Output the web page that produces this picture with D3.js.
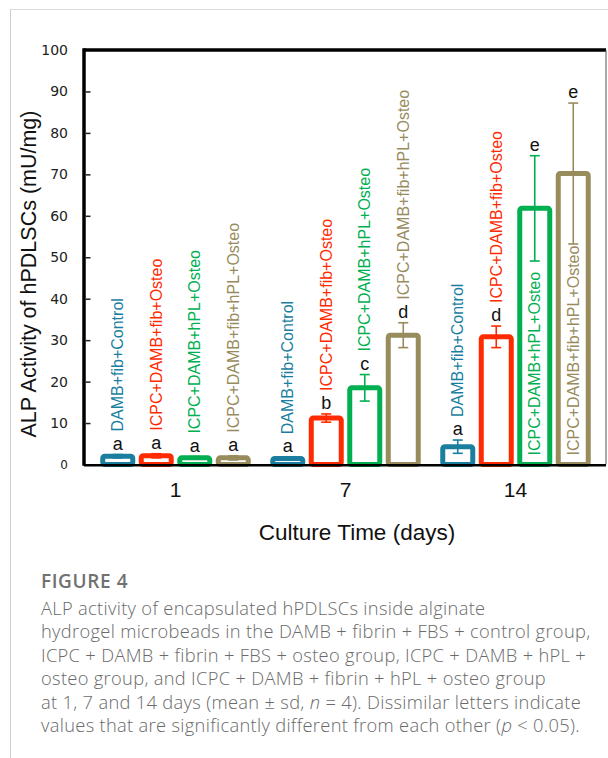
<!DOCTYPE html>
<html>
<head>
<meta charset="utf-8">
<script src="https://cdn.jsdelivr.net/npm/d3@7"></script>
<style>
html,body{margin:0;padding:0;background:#fff;}
svg{display:block;}
</style>
</head>
<body>
<div id="chart"></div>
<script>
// ---- data ----
const days = ["1", "7", "14"];
const groups = ["DAMB+fib+Control", "ICPC+DAMB+fib+Osteo", "ICPC+DAMB+hPL+Osteo", "ICPC+DAMB+fib+hPL+Osteo"];
const groupColors = ["#1a7f9f", "#ff2a00", "#00b050", "#988b5c"];
const meanControl = [2.0, 1.45, 4.3];
const meanFibOsteo = [2.1, 11.2, 30.8];
const meanHplOsteo = [1.6, 18.5, 61.8];
const meanFibHplOsteo = [1.6, 31.2, 70.2];
const sdControl = [0.4, 0.3, 1.6];
const sdFibOsteo = [0.5, 1.0, 2.6];
const sdHplOsteo = [0.3, 3.2, 12.7];
const sdFibHplOsteo = [0.5, 3.0, 17.0];
const lettersControl = ["a", "a", "a"];
const lettersFibOsteo = ["a", "b", "d"];
const lettersHplOsteo = ["a", "c", "e"];
const lettersFibHplOsteo = ["a", "d", "e"];
const yTicks = [0, 10, 20, 30, 40, 50, 60, 70, 80, 90, 100];
const yTitle = "ALP Activity of hPDLSCs (mU/mg)";
const xTitle = "Culture Time (days)";
const captionHead = "FIGURE 4";
const captionLines = [
  "ALP activity of encapsulated hPDLSCs inside alginate",
  "hydrogel microbeads in the DAMB + fibrin + FBS + control group,",
  "ICPC + DAMB + fibrin + FBS + osteo group, ICPC + DAMB + hPL +",
  "osteo group, and ICPC + DAMB + fibrin + hPL + osteo group",
  "at 1, 7 and 14 days (mean \u00B1 sd, n = 4). Dissimilar letters indicate",
  "values that are significantly different from each other (p < 0.05)."
];

const means = [meanControl, meanFibOsteo, meanHplOsteo, meanFibHplOsteo];
const sds = [sdControl, sdFibOsteo, sdHplOsteo, sdFibHplOsteo];
const letters = [lettersControl, lettersFibOsteo, lettersHplOsteo, lettersFibHplOsteo];

const records = [];
days.forEach((d, di) => groups.forEach((g, gi) => records.push({
  day: d, group: g, gi, mean: means[gi][di], sd: sds[gi][di], letter: letters[gi][di], color: groupColors[gi]
})));

// ---- layout ----
const W = 608, H = 758;
const plotL = 84, plotR = 606, plotT = 50, plotB = 464.5;
const svg = d3.select("#chart").append("svg").attr("width", W).attr("height", H)
  .style("font-family", "'Liberation Sans', Arial, sans-serif");

svg.append("rect").attr("width", W).attr("height", H).attr("fill", "#fff");
// page frame lines
svg.append("line").attr("x1", 10).attr("x2", W).attr("y1", 9.5).attr("y2", 9.5).attr("stroke", "#dcdcdc").attr("stroke-width", 1);
svg.append("line").attr("x1", 10.5).attr("x2", 10.5).attr("y1", 9.5).attr("y2", H).attr("stroke", "#cfcfcf").attr("stroke-width", 1);

const y = d3.scaleLinear().domain([0, 100]).range([plotB, plotT]);
const x0 = d3.scaleBand().domain(days).range([90.5, 600.5]).padding(0);
const x1 = d3.scaleBand().domain(groups).range([-75.25, 75.25]).paddingInner(0.091);
const sw = 5;

const g = svg.append("g");

// bars
const barG = g.selectAll("g.bar").data(records).join("g").attr("class", "bar");
barG.append("rect")
  .attr("x", d => x0(d.day) + x0.bandwidth() / 2 + x1(d.group) + sw / 2)
  .attr("width", x1.bandwidth() - sw)
  .attr("y", d => y(d.mean))
  .attr("height", d => y(0) - y(d.mean))
  .attr("rx", 2)
  .attr("fill", "#fff")
  .attr("stroke", d => d.color)
  .attr("stroke-width", sw);

const cx = d => x0(d.day) + x0.bandwidth() / 2 + x1(d.group) + x1.bandwidth() / 2;
// error bars
barG.append("line").attr("x1", cx).attr("x2", cx)
  .attr("y1", d => y(d.mean - d.sd)).attr("y2", d => y(d.mean + d.sd))
  .attr("stroke", d => d.color).attr("stroke-width", 1.6);
[1, -1].forEach(s => {
  barG.append("line").attr("x1", d => cx(d) - 5).attr("x2", d => cx(d) + 5)
    .attr("y1", d => y(d.mean + s * d.sd)).attr("y2", d => y(d.mean + s * d.sd))
    .attr("stroke", d => d.color).attr("stroke-width", 1.6);
});

// significance letters
barG.append("text")
  .attr("x", cx).attr("y", d => y(d.mean + d.sd) - 5)
  .attr("text-anchor", "middle").attr("font-size", 18).attr("fill", "#111")
  .text(d => d.letter);

// rotated group labels
barG.append("text")
  .attr("font-size", 16)
  .attr("fill", d => d.color)
  .attr("text-anchor", "start")
  .attr("dy", "0.35em")
  .text(d => d.group)
  .each(function (d) {
    const len = this.getComputedTextLength();
    let bottom = y(d.mean + d.sd) - 5 - 18;
    if (bottom - len < plotT + 2) bottom = y(0) - 9;
    d3.select(this).attr("transform", `translate(${cx(d)},${bottom}) rotate(-90)`);
  });

// frame / axes
g.append("line").attr("x1", plotL).attr("x2", plotR).attr("y1", plotT).attr("y2", plotT).attr("stroke", "#000").attr("stroke-width", 3.5);
g.append("line").attr("x1", plotR).attr("x2", plotR).attr("y1", plotT).attr("y2", plotB).attr("stroke", "#555").attr("stroke-width", 1);
g.append("line").attr("x1", plotL).attr("x2", plotL).attr("y1", plotT - 1.75).attr("y2", plotB + 1.25).attr("stroke", "#000").attr("stroke-width", 3.5);
g.append("line").attr("x1", plotL).attr("x2", plotR).attr("y1", plotB + 0.75).attr("y2", plotB + 0.75).attr("stroke", "#000").attr("stroke-width", 2.5);

// y ticks
const yAxis = d3.axisRight(y).tickValues(yTicks.slice(1, -1)).tickSize(5).tickFormat("");
const ya = g.append("g").attr("transform", `translate(${plotL + 1.5},0)`).call(yAxis);
ya.select(".domain").remove();
ya.selectAll(".tick line").attr("stroke", "#222").attr("stroke-width", 1.5);

g.selectAll("text.ytl").data(yTicks).join("text").attr("class", "ytl")
  .attr("x", 68).attr("y", d => y(d)).attr("dy", "0.35em")
  .attr("text-anchor", "end").attr("fill", "#222")
  .attr("font-family", "'DejaVu Sans', sans-serif")
  .style("font-size", d => d === 0 ? "12px" : "14px")
  .text(d => d);

// x tick labels
const xAxis = d3.axisBottom(x0).tickSize(0).tickPadding(0);
const xa = g.append("g").attr("transform", `translate(0,${497})`).call(xAxis);
xa.select(".domain").remove();
xa.selectAll("text").attr("font-size", 21).attr("fill", "#111").attr("dy", 0)
  .attr("font-family", "'Liberation Sans', Arial, sans-serif");

// axis titles
svg.append("text").attr("x", 357).attr("y", 540).attr("text-anchor", "middle")
  .attr("font-size", 22.5).attr("fill", "#111").text(xTitle);
svg.append("text").attr("transform", `translate(36,274) rotate(-90)`).attr("text-anchor", "middle")
  .attr("font-size", 21.5).attr("fill", "#111").text(yTitle);

// caption
const cap = svg.append("g").style("font-family", "'Open Sans', 'Noto Sans', sans-serif");
cap.append("text").attr("x", 41).attr("y", 588).attr("font-size", 19).attr("font-weight", 600)
  .attr("letter-spacing", 0.6).attr("fill", "#717171").text(captionHead);
const capText = cap.selectAll("text.cl").data(captionLines).join("text").attr("class", "cl")
  .attr("x", 41).attr("y", (d, i) => 615 + i * 23.4)
  .attr("font-size", 18.3).attr("font-weight", 300).attr("letter-spacing", 0.32).attr("fill", "#6a6a6a");
capText.each(function (d) {
  const t = d3.select(this);
  // italicise the statistical symbols n and p
  const parts = d.split(/(\bn\b(?= =)|\(p(?= <))/);
  parts.forEach(p => {
    if (p === "n") t.append("tspan").attr("font-style", "italic").text("n");
    else if (p === "(p") { t.append("tspan").text("("); t.append("tspan").attr("font-style", "italic").text("p"); }
    else if (p) t.append("tspan").text(p);
  });
});
</script>
</body>
</html>
